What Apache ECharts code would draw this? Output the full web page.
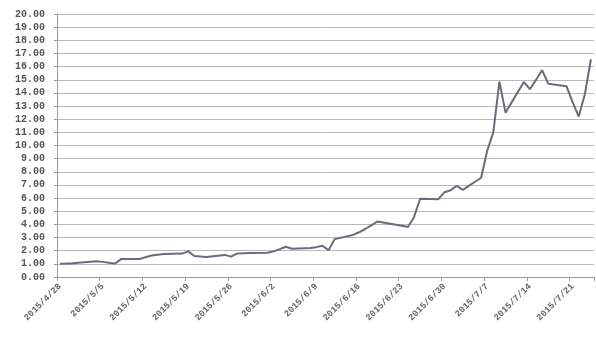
<!DOCTYPE html>
<html><head><meta charset="utf-8">
<script src="https://cdn.jsdelivr.net/npm/echarts@6/dist/echarts.min.js"></script>
<style>html,body{margin:0;padding:0;background:#fff}#c{width:596px;height:337px}</style>
</head><body><div id="c"></div>
<script>
// calendar range of the date axis
const startDate = '2015-04-28';
const endDate = '2015-07-24';

// trading days (month/day in 2015) and the plotted values
const tradeDates = [
  '4/28','4/29','4/30',
  '5/4','5/5','5/6','5/7','5/8',
  '5/11','5/12','5/13','5/14','5/15',
  '5/18','5/19','5/20','5/21','5/22',
  '5/25','5/26','5/27','5/28','5/29',
  '6/1','6/2','6/3','6/4','6/5',
  '6/8','6/9','6/10','6/11','6/12',
  '6/15','6/16','6/17','6/18','6/19',
  '6/23','6/24','6/25','6/26',
  '6/29','6/30','7/1','7/2','7/3',
  '7/6','7/7','7/8','7/9','7/10',
  '7/13','7/14','7/15','7/16','7/17',
  '7/20','7/21','7/22','7/23','7/24'
];
const values = [
  1.00,1.02,1.05,
  1.19,1.15,1.09,1.02,1.36,
  1.36,1.50,1.63,1.70,1.75,
  1.78,1.95,1.60,1.56,1.52,
  1.68,1.55,1.78,1.80,1.83,
  1.85,1.95,2.12,2.30,2.15,
  2.20,2.27,2.38,2.04,2.88,
  3.20,3.40,3.65,3.92,4.22,
  3.90,3.80,4.55,5.95,
  5.92,6.45,6.60,6.93,6.63,
  7.55,9.60,11.00,14.85,12.50,
  14.83,14.28,15.00,15.72,14.70,
  14.50,13.30,12.20,13.90,16.56
];

// y-axis ticks
const yMin = 0, yMax = 20, yStep = 1;

// build calendar categories
const cats = [];
{
  let t = Date.parse(startDate + 'T00:00:00Z');
  const tEnd = Date.parse(endDate + 'T00:00:00Z');
  while (t <= tEnd) {
    const d = new Date(t);
    cats.push(d.getUTCFullYear() + '/' + (d.getUTCMonth() + 1) + '/' + d.getUTCDate());
    t += 86400000;
  }
}
const valMap = {};
tradeDates.forEach((md, i) => { valMap['2015/' + md] = values[i]; });
const seriesData = cats.map(c => (c in valMap ? valMap[c] : null));

const chart = echarts.init(document.getElementById('c'), null, {renderer: 'canvas'});
chart.setOption({
  animation: false,
  backgroundColor: '#ffffff',
  grid: {left: 57, right: 2, top: 14, bottom: 60, containLabel: false},
  xAxis: {
    type: 'category',
    data: cats,
    boundaryGap: true,
    axisLine: {lineStyle: {color: '#9a9a9a', width: 1}},
    axisTick: {show: true, interval: 6, length: 4, lineStyle: {color: '#9a9a9a'}},
    axisLabel: {interval: 6, rotate: 45, fontSize: 9, fontWeight: 'bold', fontFamily: 'Liberation Mono', color: '#666666', margin: 8},
    splitLine: {show: false}
  },
  yAxis: {
    type: 'value',
    min: yMin, max: yMax, interval: yStep,
    axisLine: {show: true, lineStyle: {color: '#9a9a9a', width: 1}},
    axisTick: {show: true, length: 3, lineStyle: {color: '#9a9a9a'}},
    axisLabel: {formatter: v => v.toFixed(2), fontSize: 10, fontWeight: 'bold', fontFamily: 'Liberation Mono', color: '#555555', margin: 12},
    splitLine: {show: true, lineStyle: {color: '#b8b8b8', width: 1}}
  },
  series: [{
    type: 'line',
    data: seriesData,
    connectNulls: true,
    symbol: 'none',
    lineStyle: {color: '#686c7c', width: 2}
  }]
});
</script>
</body></html>
